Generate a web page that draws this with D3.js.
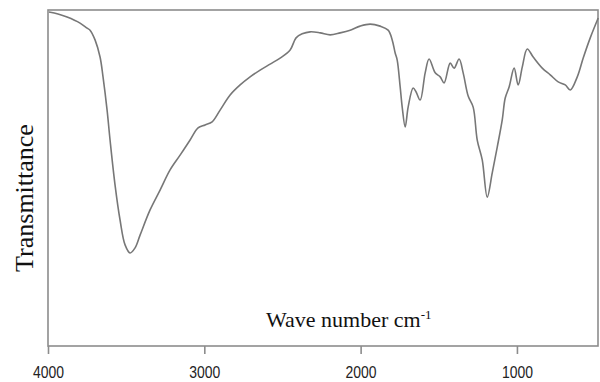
<!DOCTYPE html>
<html>
<head>
<meta charset="utf-8">
<script src="https://d3js.org/d3.v7.min.js"></script>
<style>
  html, body { margin: 0; padding: 0; background: #fff; }
  svg { display: block; }
</style>
</head>
<body>
<svg id="chart" width="600" height="382"></svg>
<script>
// FTIR spectrum: wavenumber (cm-1) and transmittance (arbitrary %, 0 = bottom of frame)
const wavenumbers = [3994, 3936, 3878, 3795, 3750, 3731, 3699, 3667, 3648, 3622, 3603, 3571, 3539, 3507, 3475, 3443, 3411, 3347, 3283, 3219, 3155, 3091, 3040, 2995, 2950, 2899, 2835, 2771, 2707, 2643, 2579, 2515, 2451, 2413, 2374, 2323, 2259, 2195, 2131, 2067, 2003, 1939, 1875, 1824, 1798, 1779, 1766, 1747, 1734, 1715, 1696, 1664, 1645, 1619, 1587, 1562, 1523, 1491, 1466, 1427, 1402, 1370, 1344, 1312, 1280, 1254, 1222, 1190, 1158, 1126, 1094, 1075, 1050, 1018, 992, 966, 934, 896, 838, 787, 736, 691, 659, 614, 576, 531, 480];
const transmittance = [99.4, 98.8, 97.9, 96.1, 94.6, 94.0, 91.1, 86.0, 80.1, 70.2, 61.3, 47.9, 37.5, 30.1, 27.7, 29.2, 33.0, 40.5, 46.4, 52.4, 56.8, 61.3, 64.9, 65.8, 66.7, 70.2, 74.7, 77.7, 80.1, 82.1, 83.9, 85.7, 88.1, 91.7, 92.9, 93.5, 93.2, 92.6, 93.2, 94.0, 95.2, 95.8, 95.2, 94.0, 91.1, 87.2, 85.1, 77.1, 71.1, 65.2, 71.1, 76.8, 75.6, 73.2, 81.3, 85.4, 81.3, 80.1, 78.3, 84.2, 82.7, 85.4, 81.3, 74.4, 71.1, 61.3, 55.4, 44.3, 51.5, 59.2, 67.3, 73.8, 77.1, 82.7, 77.7, 83.0, 88.4, 86.0, 82.7, 80.7, 78.6, 77.7, 76.2, 80.1, 85.7, 91.7, 97.6];
const xTicks = [4000, 3000, 2000, 1000];
const xTitle = "Wave number cm";
const xTitleSup = "-1";
const yTitle = "Transmittance";

const svg = d3.select("#chart");
const frame = { left: 48, right: 598, top: 10, bottom: 346 };

const x = d3.scaleLinear().domain([4000, 475]).range([frame.left, frame.right + 1]);
const y = d3.scaleLinear().domain([0, 100]).range([frame.bottom, frame.top]);

// frame
svg.append("rect")
  .attr("x", frame.left).attr("y", frame.top)
  .attr("width", frame.right - frame.left).attr("height", frame.bottom - frame.top)
  .attr("fill", "none").attr("stroke", "#8c8c8c").attr("stroke-width", 1.6);

// bottom axis with downward ticks
const axis = d3.axisBottom(x).tickValues(xTicks).tickSize(8).tickPadding(13).tickFormat(d3.format("d"));
const gx = svg.append("g").attr("transform", `translate(0,${frame.bottom})`).call(axis);
gx.select(".domain").remove();
gx.selectAll(".tick line").attr("stroke", "#8c8c8c").attr("stroke-width", 1.6);
gx.selectAll(".tick text")
  .attr("fill", "#222")
  .attr("textLength", 31)
  .attr("lengthAdjust", "spacingAndGlyphs")
  .style("font-family", "'Liberation Sans', Arial, sans-serif")
  .style("font-size", "16px");

// spectrum trace
const pts = wavenumbers.map((w, i) => [w, transmittance[i]]);
const line = d3.line().x(d => x(d[0])).y(d => y(d[1])).curve(d3.curveCatmullRom.alpha(0.5));
svg.append("path")
  .datum(pts)
  .attr("d", line)
  .attr("fill", "none")
  .attr("stroke", "#777")
  .attr("stroke-width", 1.6)
  .attr("stroke-linejoin", "round");

// axis titles
const xt = svg.append("text")
  .attr("x", 266).attr("y", 327)
  .style("font-family", "'Liberation Serif', 'DejaVu Serif', serif")
  .style("font-size", "22px")
  .attr("fill", "#111")
  .text(xTitle);
xt.append("tspan").attr("dy", -8).style("font-size", "13px").text(xTitleSup);

svg.append("text")
  .attr("transform", "translate(33,198) rotate(-90)")
  .attr("text-anchor", "middle")
  .style("font-family", "'Liberation Serif', 'DejaVu Serif', serif")
  .style("font-size", "26px")
  .attr("fill", "#111")
  .text(yTitle);
</script>
</body>
</html>
